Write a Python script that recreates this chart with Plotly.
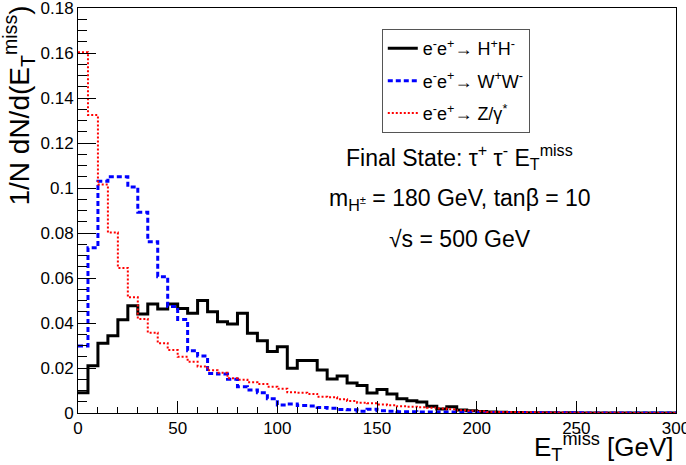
import plotly.graph_objects as go

# Bin edges in GeV (5 GeV bins from 0 to 300)
bin_edges = [0, 5, 10, 15, 20, 25, 30, 35, 40, 45, 50, 55, 60, 65, 70, 75, 80, 85, 90, 95,
             100, 105, 110, 115, 120, 125, 130, 135, 140, 145, 150, 155, 160, 165, 170, 175,
             180, 185, 190, 195, 200, 205, 210, 215, 220, 225, 230, 235, 240, 245, 250, 255,
             260, 265, 270, 275, 280, 285, 290, 295, 300]

# e-e+ -> H+H-  (black)
hh_values = [0.0090, 0.0210, 0.0310, 0.0343, 0.0415, 0.0477, 0.0440, 0.0485, 0.0462, 0.0484,
             0.0465, 0.0443, 0.0500, 0.0450, 0.0406, 0.0396, 0.0443, 0.0354, 0.0321, 0.0273,
             0.0295, 0.0199, 0.0233, 0.0233, 0.0191, 0.0151, 0.0164, 0.0133, 0.0122, 0.0089,
             0.0104, 0.0084, 0.0063, 0.0055, 0.0049, 0.0030, 0.0018, 0.0028, 0.0013, 0.0010,
             0.0007, 0.0005, 0.0003, 0.0002, 0.0002, 0.0001, 0.0001, 0.0001, 0.0000, 0.0001,
             0.0000, 0.0000, 0.0000, 0.0000, 0.0000, 0.0000, 0.0000, 0.0000, 0.0000, 0.0000]

# e-e+ -> W+W-  (blue)
ww_values = [0.0298, 0.0735, 0.1030, 0.1050, 0.1050, 0.1005, 0.0892, 0.0761, 0.0606, 0.0473,
             0.0416, 0.0277, 0.0253, 0.0176, 0.0173, 0.0150, 0.0117, 0.0102, 0.0090, 0.0063,
             0.0036, 0.0040, 0.0033, 0.0031, 0.0024, 0.0021, 0.0016, 0.0015, 0.0008, 0.0017,
             0.0010, 0.0008, 0.0006, 0.0006, 0.0005, 0.0005, 0.0004, 0.0004, 0.0003, 0.0003,
             0.0002, 0.0002, 0.0002, 0.0001, 0.0001, 0.0001, 0.0001, 0.0001, 0.0001, 0.0001,
             0.0001, 0.0000, 0.0000, 0.0000, 0.0000, 0.0000, 0.0000, 0.0000, 0.0000, 0.0000]

# e-e+ -> Z/gamma*  (red)
zg_values = [0.1603, 0.1324, 0.1015, 0.0802, 0.0645, 0.0514, 0.0418, 0.0357, 0.0310, 0.0280,
             0.0250, 0.0228, 0.0207, 0.0190, 0.0179, 0.0154, 0.0148, 0.0137, 0.0129, 0.0117,
             0.0108, 0.0092, 0.0090, 0.0085, 0.0072, 0.0070, 0.0061, 0.0053, 0.0046, 0.0043,
             0.0038, 0.0035, 0.0030, 0.0028, 0.0026, 0.0023, 0.0020, 0.0017, 0.0012, 0.0010,
             0.0008, 0.0005, 0.0004, 0.0004, 0.0003, 0.0003, 0.0002, 0.0002, 0.0002, 0.0001,
             0.0001, 0.0001, 0.0001, 0.0001, 0.0001, 0.0000, 0.0000, 0.0000, 0.0000, 0.0000]

x_tick_vals = [0, 50, 100, 150, 200, 250, 300]
x_tick_text = ["0", "50", "100", "150", "200", "250", "300"]
y_tick_vals = [0, 0.02, 0.04, 0.06, 0.08, 0.10, 0.12, 0.14, 0.16, 0.18]
y_tick_text = ["0", "0.02", "0.04", "0.06", "0.08", "0.1", "0.12", "0.14", "0.16", "0.18"]

series = [
    ("e<sup>-</sup>e<sup>+</sup>→ H<sup>+</sup>H<sup>-</sup>", hh_values, "#000000", 3, "solid"),
    ("e<sup>-</sup>e<sup>+</sup>→ W<sup>+</sup>W<sup>-</sup>", ww_values, "#0000ff", 3, "5px,3px"),
    ("e<sup>-</sup>e<sup>+</sup>→ Z/γ<sup>*</sup>", zg_values, "#ff0000", 2, "2px,2px"),
]

FONT = "Liberation Sans, Arial, Helvetica, sans-serif"

fig = go.Figure()
for i, (name, vals, color, width, dash) in enumerate(series):
    fig.add_trace(go.Scatter(
        x=bin_edges, y=list(vals) + [vals[-1]],
        mode="lines", name=name, legendgroup=f"g{i}",
        line=dict(shape="hv", color=color, width=width, dash=dash),
    ))

fig.update_layout(
    width=686, height=465,
    margin=dict(l=78, r=10, t=8, b=52, autoexpand=False),
    paper_bgcolor="white", plot_bgcolor="white",
    font=dict(family=FONT, size=17, color="black"),
    showlegend=True,
    legend=dict(
        x=0.508, y=0.948, xanchor="left", yanchor="top",
        bgcolor="white", bordercolor="#555555", borderwidth=1,
        font=dict(family=FONT, size=18, color="black"),
        tracegroupgap=6, traceorder="grouped",
    ),
    xaxis=dict(
        range=[0, 300], tickmode="array", tickvals=x_tick_vals, ticktext=x_tick_text,
        ticks="inside", ticklen=12, tickwidth=1, tickcolor="black",
        showline=True, linecolor="black", linewidth=1, mirror=True,
        showgrid=False, zeroline=False, ticklabeloverflow="allow", automargin=False,
        tickfont=dict(family=FONT, size=17),
        minor=dict(dtick=10, tick0=0, ticks="inside", ticklen=6, tickcolor="black", showgrid=False),
    ),
    yaxis=dict(
        range=[0, 0.18], tickmode="array", tickvals=y_tick_vals, ticktext=y_tick_text,
        ticks="inside", ticklen=18, tickwidth=1, tickcolor="black",
        showline=True, linecolor="black", linewidth=1, mirror=True,
        showgrid=False, zeroline=False, ticklabeloverflow="allow", automargin=False,
        tickfont=dict(family=FONT, size=17),
        minor=dict(dtick=0.005, tick0=0, ticks="inside", ticklen=9, tickcolor="black", showgrid=False),
    ),
)

# Axis titles (ROOT style: aligned to the axis end)
fig.add_annotation(
    text="E<sub>T</sub><sup>miss</sup> [GeV]", xref="paper", yref="paper",
    x=1.0, y=-0.035, xanchor="right", yanchor="top", showarrow=False,
    font=dict(family=FONT, size=26),
)
fig.add_annotation(
    text="1/N dN/d(E<sub>T</sub><sup>miss</sup>)", xref="paper", yref="paper",
    x=-0.098, y=1.012, xanchor="center", yanchor="top", textangle=-90, showarrow=False,
    font=dict(family=FONT, size=28),
)

# Info text
info_lines = [
    ("Final State: τ<sup>+</sup> τ<sup>-</sup> E<sub>T</sub><sup>miss</sup>", 0.633),
    ("m<sub>H<sup>±</sup></sub> = 180 GeV, tanβ = 10", 0.528),
    ("√s = 500 GeV", 0.43),
]
for txt, yy in info_lines:
    fig.add_annotation(
        text=txt, xref="paper", yref="paper", x=0.638, y=yy,
        xanchor="center", yanchor="middle", showarrow=False,
        font=dict(family=FONT, size=23),
    )

fig.write_html("out.html")
